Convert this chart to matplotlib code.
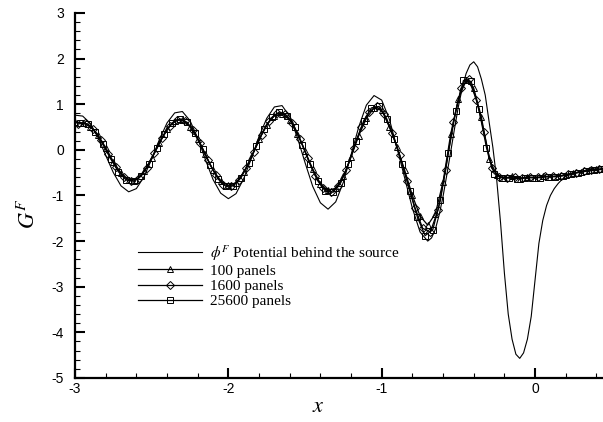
import matplotlib as mpl
import matplotlib.pyplot as plt
import numpy as np

mpl.use("Agg")
plt.rcParams["font.family"] = ["Liberation Sans", "DejaVu Sans"]
plt.rcParams["mathtext.fontset"] = "stix"
plt.rcParams["axes.unicode_minus"] = False

# sample positions along x (each panel run sampled on its own grid)
x_100 = np.round(np.linspace(-3.0, 0.45, 70), 3)
x_1600 = np.round(np.linspace(-2.983, 0.417, 69), 3)
x_25600 = np.round(np.linspace(-2.967, 0.433, 69), 3)
x_pot = np.round(np.concatenate([np.linspace(-3.0, -0.70, 47),
                                 np.linspace(-0.675, 0.175, 35),
                                 np.linspace(0.20, 0.45, 6)]), 3)

# phi^F, potential behind the source
g_potential = [
    0.76, 0.74, 0.58, 0.27, -0.12, -0.50, -0.79, -0.92, -0.85, -0.59,
    -0.20, 0.22, 0.59, 0.81, 0.84, 0.64, 0.26, -0.21, -0.65, -0.95,
    -1.07, -0.96, -0.63, -0.19, 0.29, 0.69, 0.94, 0.97, 0.73, 0.27,
    -0.28, -0.80, -1.16, -1.30, -1.14, -0.71, -0.11, 0.50, 0.98, 1.19,
    1.09, 0.67, 0.04, -0.62, -1.28, -1.80, -2.00,
    -1.93, -1.74, -1.42, -1.02, -0.54, -0.04, 0.47, 0.95, 1.35, 1.67,
    1.86, 1.93, 1.82, 1.55, 1.20, 0.62, 0.05, -0.66, -1.60, -2.70,
    -3.60, -4.15, -4.48, -4.57, -4.45, -4.15, -3.65, -2.85, -2.05, -1.55,
    -1.22, -1.00, -0.85, -0.74, -0.65,
    -0.58, -0.52, -0.47, -0.43, -0.39, -0.36,
]

g_100 = [
    0.60, 0.59, 0.51, 0.33, 0.05, -0.26, -0.51, -0.65, -0.65, -0.47,
    -0.18, 0.16, 0.46, 0.64, 0.66, 0.51, 0.23, -0.10, -0.44, -0.68,
    -0.78, -0.72, -0.49, -0.15, 0.23, 0.55, 0.75, 0.79, 0.66, 0.35,
    -0.03, -0.42, -0.74, -0.89, -0.84, -0.58, -0.16, 0.31, 0.69, 0.92,
    0.87, 0.50, 0.07, -0.45, -1.00, -1.45, -1.65, -1.40, -0.70, 0.35,
    1.12, 1.52, 1.35, 0.72, -0.20, -0.55, -0.62, -0.58, -0.63, -0.59,
    -0.62, -0.58, -0.59, -0.57, -0.55, -0.50, -0.49, -0.44, -0.43, -0.40,
]

g_1600 = [
    0.57, 0.58, 0.45, 0.21, -0.09, -0.38, -0.60, -0.68, -0.62, -0.39,
    -0.08, 0.25, 0.52, 0.66, 0.63, 0.44, 0.14, -0.23, -0.55, -0.76,
    -0.80, -0.67, -0.40, -0.04, 0.33, 0.63, 0.80, 0.79, 0.59, 0.24,
    -0.18, -0.57, -0.84, -0.93, -0.80, -0.45, 0.03, 0.49, 0.83, 0.95,
    0.78, 0.37, -0.12, -0.69, -1.27, -1.72, -1.80, -1.32, -0.44, 0.60,
    1.35, 1.55, 1.10, 0.40, -0.40, -0.60, -0.61, -0.60, -0.62, -0.60,
    -0.60, -0.58, -0.58, -0.57, -0.54, -0.50, -0.47, -0.45, -0.43,
]

g_25600 = [
    0.59, 0.57, 0.40, 0.12, -0.20, -0.48, -0.66, -0.69, -0.57, -0.31,
    0.03, 0.35, 0.59, 0.68, 0.60, 0.36, 0.02, -0.34, -0.64, -0.80,
    -0.79, -0.61, -0.29, 0.09, 0.45, 0.71, 0.83, 0.75, 0.49, 0.11,
    -0.32, -0.68, -0.91, -0.93, -0.72, -0.31, 0.19, 0.64, 0.92, 0.95,
    0.68, 0.23, -0.30, -0.90, -1.48, -1.88, -1.75, -1.10, -0.08, 0.85,
    1.52, 1.50, 0.90, 0.05, -0.52, -0.61, -0.62, -0.63, -0.62, -0.61,
    -0.61, -0.59, -0.59, -0.57, -0.53, -0.50, -0.47, -0.45, -0.43,
]

labels = [r"$\phi^F$ Potential behind the source", "100 panels", "1600 panels", "25600 panels"]
x_ticks = [-3, -2, -1, 0]
y_ticks = [-5, -4, -3, -2, -1, 0, 1, 2, 3]

fig = plt.figure(figsize=(6.03, 4.22), dpi=100)
ax = fig.add_axes([0.1244, 0.1043, 0.8756, 0.865])

mk = dict(color="black", lw=0.9, mfc="none", mec="black", mew=0.7)
ax.plot(x_pot, g_potential, color="black", lw=0.8, label=labels[0])
ax.plot(x_100, g_100, marker="^", ms=5, label=labels[1], **mk)
ax.plot(x_1600, g_1600, marker="D", ms=4, label=labels[2], **mk)
ax.plot(x_25600, g_25600, marker="s", ms=4.6, label=labels[3], **mk)

ax.set_xlim(-3, 0.443)
ax.set_ylim(-5, 3)
ax.set_xticks(x_ticks)
ax.set_yticks(y_ticks)
ax.set_xticks(np.round(np.arange(-3, 0.45, 0.2), 2), minor=True)
ax.set_yticks(np.round(np.arange(-5, 3.01, 0.2), 2), minor=True)
ax.tick_params(which="major", direction="in", length=7, width=1.5, labelsize=10)
ax.tick_params(which="minor", direction="in", length=3.6, width=0.8)
ax.tick_params(axis="y", which="major", pad=8)
ax.tick_params(axis="x", which="major", pad=3)
for s in ("top", "right"):
    ax.spines[s].set_visible(False)
for s in ("left", "bottom"):
    ax.spines[s].set_linewidth(1.6)

ax.set_xlabel(r"$x$", fontsize=16)
ax.set_ylabel(r"$G^F$", fontsize=16)
ax.xaxis.set_label_coords(0.46, -0.05)
ax.yaxis.set_label_coords(-0.066, 0.45)

ax.legend(loc="upper left", bbox_to_anchor=(0.119, 0.37), frameon=False,
          prop={"family": "Liberation Serif", "size": 11}, handlelength=4.2,
          handletextpad=0.5, labelspacing=0.1, borderpad=0, borderaxespad=0,
          numpoints=1)

fig.savefig("out.png", dpi=100, facecolor="white")
